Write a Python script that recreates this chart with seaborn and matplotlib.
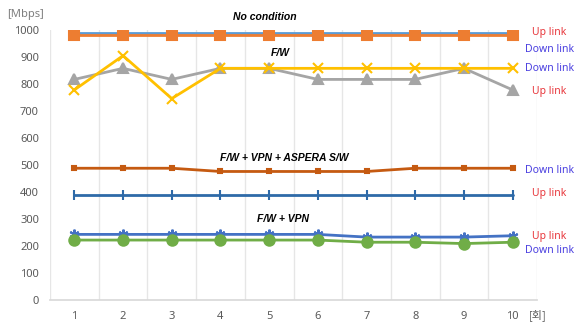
import matplotlib
matplotlib.use("Agg")
import matplotlib.pyplot as plt
import seaborn as sns
import pandas as pd
from matplotlib.ticker import FixedLocator

runs = ["1", "2", "3", "4", "5", "6", "7", "8", "9", "10"]

nocond_a = [990, 990, 990, 990, 990, 990, 990, 990, 990, 990]
nocond_b = [982, 982, 982, 982, 982, 982, 982, 982, 982, 982]
fw_gray = [817, 858, 817, 858, 858, 817, 817, 817, 858, 778]
fw_yellow = [778, 905, 746, 858, 858, 858, 858, 858, 858, 858]
aspera_down = [488, 488, 488, 476, 476, 476, 476, 488, 488, 488]
aspera_up = [388, 388, 388, 388, 388, 388, 388, 388, 388, 388]
vpn_up = [243, 243, 243, 243, 243, 243, 233, 233, 233, 238]
vpn_down = [222, 222, 222, 222, 222, 222, 214, 214, 209, 214]

sns.set_theme(style="white")
plt.rcParams["font.family"] = ["Noto Sans", "Noto Sans CJK KR", "DejaVu Sans"]

fig = plt.figure(figsize=(5.81, 3.23), dpi=100)
ax = fig.add_axes([50 / 581, 1 - 300 / 323, (537 - 50) / 581, 270 / 323])

x = list(range(len(runs)))
series = [
    (nocond_a, "#5b9bd5", "^", 5),
    (nocond_b, "#ed7d31", "s", 7.5),
    (fw_gray, "#a5a5a5", "^", 7),
    (fw_yellow, "#ffc000", "x", 7),
    (aspera_down, "#c55a11", "s", 3.5),
    (aspera_up, "#2e6aa8", "|", 7),
    (vpn_up, "#4472c4", (6, 2, 0), 7),
    (vpn_down, "#70ad47", "o", 7.5),
]
for vals, col, mk, ms in series:
    df = pd.DataFrame({"x": x, "y": vals})
    sns.lineplot(data=df, x="x", y="y", ax=ax, color=col, marker=mk,
                 markersize=ms, linewidth=2, markeredgecolor=col,
                 markeredgewidth=1.5, legend=False)

ax.set_xlim(-0.5, 9.5)
ax.set_ylim(0, 1000)
ax.set_xticks(x)
ax.set_xticklabels(runs)
ax.set_yticks(range(0, 1001, 100))
ax.xaxis.set_minor_locator(FixedLocator([i + 0.5 for i in range(-1, 10)]))
ax.grid(False)
ax.grid(True, which="minor", axis="x", color="#e6e6e6", linewidth=1)
ax.tick_params(axis="both", which="both", length=0, labelsize=8, colors="#595959", pad=8)
ax.set_xlabel("")
ax.set_ylabel("")
for s in ["top", "right", "left"]:
    ax.spines[s].set_visible(False)
ax.spines["bottom"].set_color("#d9d9d9")

ax.text(9.33, -57, "[회]", fontsize=8, color="#595959", ha="left", va="center",
        family=["Noto Sans CJK KR"], clip_on=False)
fig.text(25 / 581, 1 - 15 / 323, "[Mbps]", fontsize=8, color="#7f7f7f",
         ha="center", va="center")

labels = [
    (3.91, 1048, "No condition"),
    (4.22, 915, "F/W"),
    (4.30, 526, "F/W + VPN + ASPERA S/W"),
    (4.28, 300, "F/W + VPN"),
]
for lx, ly, t in labels:
    ax.text(lx, ly, t, fontsize=7.5, fontweight="bold", style="italic",
            family="Liberation Sans",
            ha="center", va="center", clip_on=False, color="black")

up_c = "#e8383d"
down_c = "#4a3fe0"
side = [
    (989, "Up link", up_c),
    (926, "Down link", down_c),
    (856, "Down link", down_c),
    (774, "Up link", up_c),
    (478, "Down link", down_c),
    (393, "Up link", up_c),
    (237, "Up link", up_c),
    (185, "Down link", down_c),
]
for ly, t, c in side:
    ax.text(9.75, ly, t, fontsize=7.5, color=c, ha="center", va="center",
            clip_on=False)

fig.savefig("out.png", dpi=100)
